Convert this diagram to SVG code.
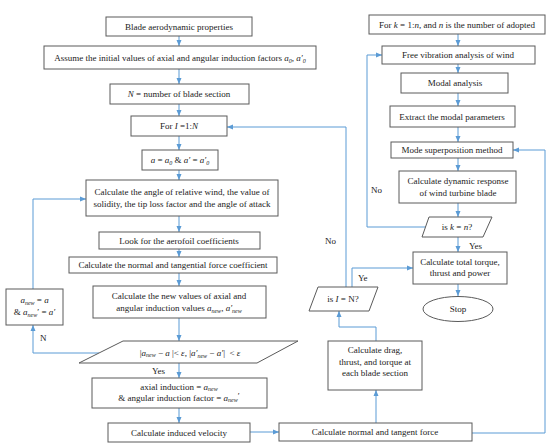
<svg xmlns="http://www.w3.org/2000/svg" width="550" height="445" viewBox="0 0 550 445">
<style>
.box{fill:#fff;stroke:#5a5a5a;stroke-width:1}
.t{font-family:"Liberation Serif",serif;font-size:9px;fill:#222;text-anchor:middle}
.l{font-family:"Liberation Serif",serif;font-size:9px;fill:#222}
.i{font-style:italic}
.s{font-size:6px;font-style:italic}
.c{fill:none;stroke:#5b9bd5;stroke-width:1}
</style>
<defs>
<marker id="ah" markerWidth="6" markerHeight="6" refX="6" refY="3" orient="auto" markerUnits="userSpaceOnUse"><path d="M0,0.5 L6,3 L0,5.5 z" fill="#5b9bd5"/></marker>
</defs>
<rect width="550" height="445" fill="#fff"/>
<g id="connectors">
<path class="c" d="M179,36 V46" marker-end="url(#ah)"/>
<path class="c" d="M179,69 V84" marker-end="url(#ah)"/>
<path class="c" d="M179,104 V116" marker-end="url(#ah)"/>
<path class="c" d="M179,136 V150" marker-end="url(#ah)"/>
<path class="c" d="M179,170 V180" marker-end="url(#ah)"/>
<path class="c" d="M179,216 V232" marker-end="url(#ah)"/>
<path class="c" d="M179,249 V257" marker-end="url(#ah)"/>
<path class="c" d="M179,273 V286" marker-end="url(#ah)"/>
<path class="c" d="M179,318 V341" marker-end="url(#ah)"/>
<path class="c" d="M179,363 V378" marker-end="url(#ah)"/>
<path class="c" d="M179,408 V423" marker-end="url(#ah)"/>
<path class="c" d="M250,432 H279" marker-end="url(#ah)"/>
<path class="c" d="M99,353 H33 V325" marker-end="url(#ah)"/>
<path class="c" d="M33,289 V199 H86" marker-end="url(#ah)"/>
<path class="c" d="M376,423 V390" marker-end="url(#ah)"/>
<path class="c" d="M376,341 V327 H339 V311" marker-end="url(#ah)"/>
<path class="c" d="M346,287 V127 H227" marker-end="url(#ah)"/>
<path class="c" d="M352,287 V268 H413" marker-end="url(#ah)"/>
<path class="c" d="M472,433 H545 V150 H513" marker-end="url(#ah)"/>
<path class="c" d="M458,34 V46" marker-end="url(#ah)"/>
<path class="c" d="M458,64 V73" marker-end="url(#ah)"/>
<path class="c" d="M458,93 V106" marker-end="url(#ah)"/>
<path class="c" d="M458,127 V142" marker-end="url(#ah)"/>
<path class="c" d="M458,158 V171" marker-end="url(#ah)"/>
<path class="c" d="M458,203 V217" marker-end="url(#ah)"/>
<path class="c" d="M458,237 V252" marker-end="url(#ah)"/>
<path class="c" d="M458,284 V296" marker-end="url(#ah)"/>
<path class="c" d="M426,227 H367 V55 H382" marker-end="url(#ah)"/>
</g>
<g id="labels">
<text class="l" x="40" y="341">N</text>
<text class="l" x="152" y="374">Yes</text>
<text class="l" x="325" y="244">No</text>
<text class="l" x="358" y="281">Ye</text>
<text class="l" x="371" y="193">No</text>
<text class="l" x="469" y="249">Yes</text>
</g>
<g id="n1"><rect class="box" x="106" y="17" width="146" height="19"/><text class="t" x="179" y="29.5">Blade aerodynamic properties</text></g>
<g id="n2"><rect class="box" x="44" y="46" width="272" height="23"/><text class="t" x="180" y="60.5">Assume the initial values of axial and angular induction factors  <tspan class="i">a</tspan><tspan class="s" dy="2">0</tspan><tspan dy="-2">, </tspan><tspan class="i">a′</tspan><tspan class="s" dy="2">0</tspan></text></g>
<g id="n3"><rect class="box" x="110" y="84" width="139" height="20"/><text class="t" x="179" y="97"><tspan class="i">N</tspan> = number of blade section</text></g>
<g id="n4"><rect class="box" x="131" y="116" width="96" height="20"/><text class="t" x="179" y="129">For <tspan class="i">I</tspan> =1:<tspan class="i">N</tspan></text></g>
<g id="n5"><rect class="box" x="142" y="150" width="76" height="20"/><text class="t" x="180" y="163"><tspan class="i">a</tspan> = <tspan class="i">a</tspan><tspan class="s" dy="2">0</tspan><tspan dy="-2"> &amp; </tspan><tspan class="i">a′</tspan> = <tspan class="i">a′</tspan><tspan class="s" dy="2">0</tspan></text></g>
<g id="n6"><rect class="box" x="86" y="180" width="192" height="36"/><text class="t" x="182" y="195">Calculate the angle of relative wind, the value of</text><text class="t" x="182" y="207">solidity, the tip loss factor and the angle of attack</text></g>
<g id="n7"><rect class="box" x="99" y="232" width="161" height="17"/><text class="t" x="179" y="243.5">Look for the aerofoil coefficients</text></g>
<g id="n8"><rect class="box" x="69" y="257" width="208" height="16"/><text class="t" x="173" y="268">Calculate the normal and tangential force coefficient</text></g>
<g id="n9"><rect class="box" x="93" y="286" width="173" height="32"/><text class="t" x="179" y="299">Calculate the new values of axial and</text><text class="t" x="179" y="311">angular induction values  <tspan class="i">a</tspan><tspan class="s" dy="1.5">new</tspan><tspan dy="-1.5">, </tspan><tspan class="i">a′</tspan><tspan class="s" dy="1.5">new</tspan></text></g>
<g id="n10"><polygon class="box" points="123,341 298,341 257,363 79,363"/><text class="t" x="190" y="355.5" xml:space="preserve">|<tspan class="i">a</tspan><tspan class="s" dy="1.5">new</tspan><tspan dy="-1.5"> − </tspan><tspan class="i">a</tspan> |&lt; <tspan class="i">ε</tspan>, |<tspan class="i">a′</tspan><tspan class="s" dy="2">new</tspan><tspan dy="-2"> − </tspan><tspan class="i">a′</tspan>|  &lt; <tspan class="i">ε</tspan></text></g>
<g id="n11"><rect class="box" x="92" y="378" width="175" height="30"/><text class="t" x="179" y="389.5">axial induction  = <tspan class="i">a</tspan><tspan class="s" dy="1.5">new</tspan></text><text class="t" x="179" y="400.5">&amp; angular induction factor = <tspan class="i">a</tspan><tspan class="s" dy="1.5">new</tspan><tspan dy="-3">′</tspan></text></g>
<g id="n12"><rect class="box" x="108" y="423" width="142" height="19"/><text class="t" x="179" y="435.5">Calculate induced velocity</text></g>
<g id="n13"><rect class="box" x="6" y="289" width="57" height="36"/><text class="t" x="34.5" y="303"><tspan class="i">a</tspan><tspan class="s" dy="1.5">new</tspan><tspan dy="-1.5"> = </tspan><tspan class="i">a</tspan></text><text class="t" x="34.5" y="315">&amp; <tspan class="i">a</tspan><tspan class="s" dy="1.5">new</tspan><tspan dy="-1.5">′ = </tspan><tspan class="i">a′</tspan></text></g>
<g id="n14"><rect class="box" x="279" y="423" width="193" height="18"/><text class="t" x="375" y="435">Calculate normal and tangent force</text></g>
<g id="n15"><rect class="box" x="328" y="341" width="94" height="49"/><text class="t" x="375" y="353">Calculate drag,</text><text class="t" x="375" y="365">thrust, and torque at</text><text class="t" x="375" y="376">each blade section</text></g>
<g id="n16"><polygon class="box" points="318,287 378,287 369,311 309,311"/><text class="t" x="343" y="302">is <tspan class="i">I</tspan> = N?</text></g>
<g id="n17"><rect class="box" x="369" y="15" width="176" height="19"/><text class="t" x="457" y="27.5">For <tspan class="i">k</tspan> = 1:<tspan class="i">n</tspan>, and <tspan class="i">n</tspan> is the number of adopted</text></g>
<g id="n18"><rect class="box" x="382" y="46" width="153" height="18"/><text class="t" x="458" y="58">Free vibration analysis of wind</text></g>
<g id="n19"><rect class="box" x="401" y="73" width="107" height="20"/><text class="t" x="455" y="86">Modal analysis</text></g>
<g id="n20"><rect class="box" x="390" y="106" width="125" height="21"/><text class="t" x="452" y="119.5">Extract the modal parameters</text></g>
<g id="n21"><rect class="box" x="391" y="142" width="122" height="16"/><text class="t" x="452" y="153">Mode superposition method</text></g>
<g id="n22"><rect class="box" x="399" y="171" width="117" height="32"/><text class="t" x="458" y="184">Calculate dynamic response</text><text class="t" x="458" y="195.5">of wind turbine blade</text></g>
<g id="n23"><polygon class="box" points="429,217 492,217 483,237 422,237"/><text class="t" x="457" y="230">is <tspan class="i">k</tspan> = <tspan class="i">n</tspan>?</text></g>
<g id="n24"><rect class="box" x="413" y="252" width="94" height="32"/><text class="t" x="460" y="264.5">Calculate total torque,</text><text class="t" x="460" y="275.5">thrust and power</text></g>
<g id="n25"><ellipse class="box" cx="458" cy="309" rx="35" ry="12.5"/><text class="t" x="458" y="312">Stop</text></g>
</svg>
